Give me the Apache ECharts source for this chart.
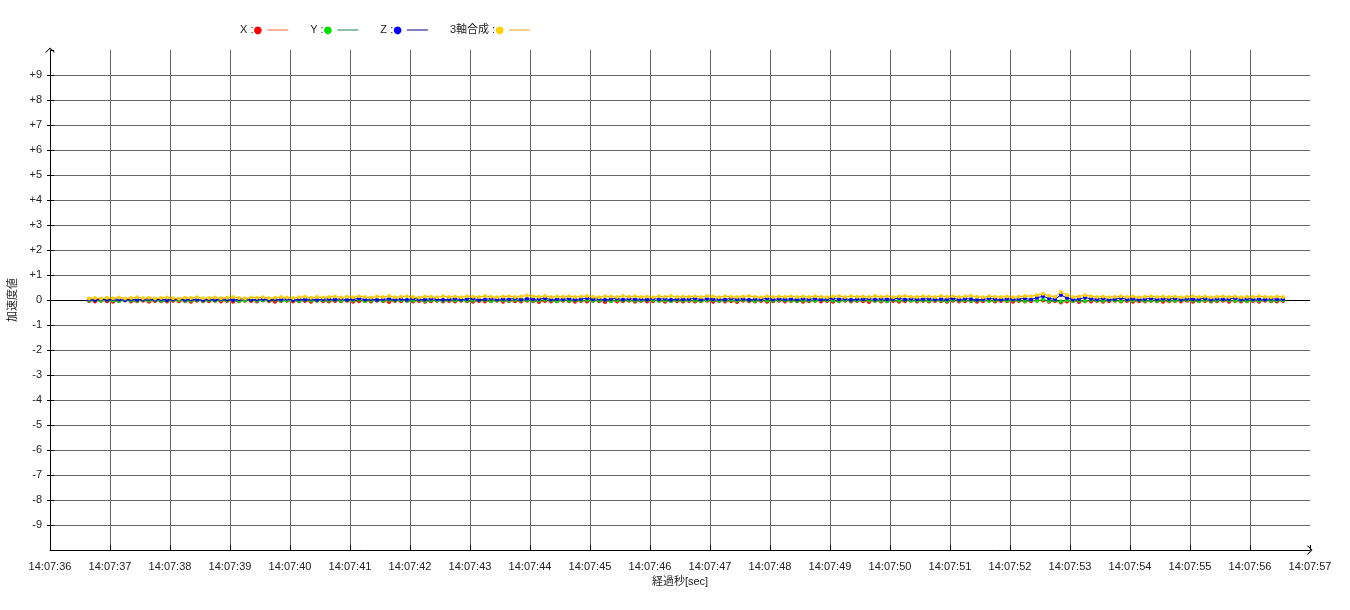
<!DOCTYPE html>
<html>
<head>
<meta charset="utf-8">
<script src="https://cdn.jsdelivr.net/npm/echarts@6/dist/echarts.min.js"></script>
<style>
  html, body { margin: 0; padding: 0; background: #fff; }
  #main { width: 1350px; height: 610px; }
</style>
</head>
<body>
<div id="main"></div>
<script>
// サンプリング（秒）: 14:07:36.65 から 0.1 秒ごと
const startSec = 36.65;
const stepSec = 0.1;

const seriesNames = ['X', 'Y', 'Z', '3軸合成'];

// X軸
const xValues = [
  -0.04,-0.06,-0.03,-0.05,-0.07,-0.04,-0.02,-0.06,-0.05,-0.03,-0.07,-0.04,-0.05,-0.06,-0.03,-0.05,-0.04,-0.07,-0.03,-0.05,
  -0.05,-0.03,-0.06,-0.04,-0.07,-0.05,-0.03,-0.04,-0.06,-0.02,-0.05,-0.07,-0.04,-0.03,-0.06,-0.05,-0.04,-0.07,-0.03,-0.05,
  -0.06,-0.04,-0.05,-0.03,-0.07,-0.05,-0.04,-0.06,-0.03,-0.05,-0.08,-0.04,-0.05,-0.03,-0.06,-0.04,-0.07,-0.05,-0.03,-0.06,
  -0.04,-0.06,-0.03,-0.05,-0.07,-0.04,-0.06,-0.05,-0.03,-0.07,-0.04,-0.05,-0.06,-0.03,-0.05,-0.08,-0.04,-0.06,-0.05,-0.03,
  -0.05,-0.07,-0.04,-0.06,-0.03,-0.05,-0.08,-0.04,-0.06,-0.05,-0.03,-0.07,-0.04,-0.06,-0.05,-0.03,-0.07,-0.04,-0.05,-0.06,
  -0.04,-0.06,-0.05,-0.03,-0.07,-0.04,-0.06,-0.05,-0.08,-0.03,-0.05,-0.06,-0.04,-0.07,-0.05,-0.03,-0.06,-0.04,-0.05,-0.07,
  -0.05,-0.03,-0.06,-0.04,-0.07,-0.05,-0.03,-0.06,-0.04,-0.05,-0.08,-0.03,-0.06,-0.05,-0.04,-0.07,-0.05,-0.03,-0.06,-0.04,
  -0.06,-0.04,-0.05,-0.07,-0.03,-0.06,-0.05,-0.04,-0.07,-0.05,-0.03,-0.06,-0.04,-0.05,-0.07,-0.04,-0.06,-0.05,-0.03,-0.02,
  -0.07,-0.05,-0.10,-0.06,-0.04,-0.08,-0.05,-0.06,-0.04,-0.07,-0.05,-0.03,-0.06,-0.04,-0.07,-0.05,-0.06,-0.04,-0.05,-0.07,
  -0.05,-0.04,-0.06,-0.03,-0.07,-0.05,-0.04,-0.06,-0.05,-0.03,-0.07,-0.04,-0.06,-0.05,-0.04,-0.07,-0.03,-0.05,-0.06,-0.04
];

// Y軸
const yValues = [
  -0.02,-0.01,-0.03,0.00,-0.02,-0.04,-0.01,-0.02,-0.03,0.00,-0.02,-0.01,-0.03,-0.02,0.00,-0.01,-0.03,-0.02,-0.01,-0.03,
  -0.01,-0.03,0.00,-0.02,-0.01,-0.04,-0.02,0.00,-0.03,-0.01,-0.02,0.01,-0.03,-0.02,-0.01,-0.04,0.00,-0.02,-0.03,-0.01,
  -0.02,0.00,-0.03,-0.01,-0.02,0.01,-0.04,-0.02,-0.01,-0.03,0.00,-0.02,-0.01,-0.03,-0.02,0.00,-0.04,-0.01,-0.02,-0.03,
  0.00,-0.02,-0.01,-0.03,-0.02,0.00,-0.01,-0.04,-0.02,-0.01,-0.03,0.00,-0.02,-0.01,-0.03,-0.02,0.01,-0.02,-0.04,-0.01,
  -0.03,-0.01,-0.02,0.00,-0.03,-0.02,-0.01,-0.04,0.00,-0.02,-0.01,-0.03,-0.02,0.00,-0.01,-0.03,-0.02,-0.04,-0.01,-0.02,
  -0.01,-0.02,-0.04,-0.01,0.00,-0.03,-0.02,-0.01,-0.03,0.00,-0.02,-0.04,-0.01,-0.02,-0.03,0.00,-0.01,-0.02,-0.04,-0.02,
  -0.02,-0.03,0.00,-0.01,-0.02,-0.04,-0.01,-0.03,-0.02,0.00,-0.01,-0.03,-0.02,-0.04,0.00,-0.02,-0.01,-0.03,-0.02,-0.01,
  -0.03,-0.01,-0.02,-0.04,0.00,-0.02,-0.01,-0.03,-0.02,-0.01,-0.04,-0.02,0.00,-0.03,-0.01,-0.02,-0.04,-0.01,-0.03,0.02,
  -0.04,-0.02,-0.06,-0.01,-0.03,-0.02,-0.04,0.00,-0.02,-0.03,-0.01,-0.02,-0.04,0.00,-0.02,-0.01,-0.03,-0.02,-0.04,-0.01,
  -0.02,-0.03,-0.01,0.00,-0.02,-0.04,-0.01,-0.03,-0.02,0.00,-0.01,-0.03,-0.02,-0.04,-0.01,-0.02,0.00,-0.03,-0.02,-0.01
];

// Z軸
const zValues = [
  0.02,0.00,0.03,0.01,0.04,0.02,0.00,0.03,0.01,0.02,0.04,0.01,0.03,0.00,0.02,0.04,0.01,0.03,0.02,0.00,
  0.03,0.01,0.04,0.02,0.00,0.03,0.05,0.01,0.02,0.04,0.01,0.03,0.02,0.05,0.00,0.03,0.02,0.04,0.01,0.03,
  0.04,0.02,0.05,0.01,0.03,0.06,0.02,0.04,0.01,0.03,0.05,0.02,0.04,0.01,0.06,0.03,0.02,0.05,0.03,0.01,
  0.03,0.05,0.02,0.04,0.06,0.01,0.03,0.05,0.02,0.04,0.03,0.06,0.02,0.05,0.03,0.04,0.07,0.02,0.04,0.03,
  0.05,0.02,0.04,0.07,0.03,0.05,0.01,0.04,0.06,0.02,0.05,0.03,0.04,0.02,0.06,0.03,0.05,0.01,0.04,0.03,
  0.04,0.06,0.02,0.05,0.03,0.04,0.02,0.06,0.03,0.05,0.01,0.04,0.03,0.06,0.02,0.05,0.03,0.04,0.02,0.05,
  0.03,0.05,0.02,0.04,0.06,0.03,0.05,0.01,0.04,0.03,0.06,0.02,0.05,0.03,0.04,0.07,0.02,0.05,0.03,0.04,
  0.05,0.02,0.04,0.03,0.06,0.02,0.05,0.04,0.01,0.03,0.06,0.04,0.02,0.05,0.03,0.04,0.06,0.02,0.09,0.15,
  0.06,0.03,0.20,0.08,0.02,0.04,0.10,0.05,0.03,0.06,0.02,0.04,0.07,0.03,0.05,0.02,0.04,0.06,0.03,0.05,
  0.04,0.06,0.02,0.05,0.03,0.04,0.06,0.02,0.05,0.03,0.04,0.07,0.02,0.05,0.03,0.04,0.02,0.05,0.03,0.04
];

// 3軸合成
const sumValues = [
  0.06,0.08,0.05,0.09,0.07,0.10,0.06,0.08,0.11,0.07,0.09,0.06,0.08,0.10,0.07,0.05,0.09,0.08,0.11,0.07,
  0.08,0.10,0.07,0.09,0.12,0.08,0.06,0.10,0.09,0.11,0.07,0.09,0.12,0.10,0.08,0.11,0.13,0.09,0.12,0.10,
  0.12,0.14,0.10,0.13,0.11,0.15,0.12,0.10,0.14,0.12,0.16,0.11,0.13,0.15,0.12,0.10,0.14,0.13,0.11,0.15,
  0.12,0.14,0.11,0.15,0.13,0.12,0.16,0.13,0.11,0.14,0.15,0.12,0.14,0.18,0.15,0.13,0.16,0.12,0.14,0.13,
  0.15,0.12,0.14,0.16,0.13,0.11,0.15,0.14,0.12,0.16,0.13,0.15,0.12,0.14,0.11,0.15,0.13,0.16,0.12,0.14,
  0.13,0.15,0.12,0.16,0.14,0.11,0.15,0.13,0.12,0.14,0.16,0.13,0.11,0.15,0.12,0.14,0.13,0.15,0.12,0.14,
  0.12,0.15,0.13,0.11,0.14,0.16,0.12,0.15,0.13,0.14,0.12,0.16,0.13,0.15,0.11,0.14,0.16,0.13,0.12,0.15,
  0.14,0.12,0.16,0.13,0.15,0.12,0.14,0.17,0.13,0.11,0.15,0.13,0.12,0.14,0.11,0.13,0.16,0.15,0.20,0.25,
  0.17,0.13,0.32,0.20,0.12,0.14,0.19,0.15,0.12,0.14,0.11,0.13,0.15,0.12,0.14,0.11,0.13,0.15,0.12,0.14,
  0.12,0.14,0.11,0.13,0.15,0.12,0.14,0.11,0.13,0.15,0.12,0.14,0.11,0.13,0.12,0.15,0.13,0.11,0.14,0.12
];

const dotColors = ['#ff0000', '#00e000', '#0000ff', '#ffd000'];
const lineColors = ['#f06040', '#208050', '#000080', '#f0a000'];
const richKeys = ['dx', 'dy', 'dz', 'dc'];

const fontFamily = '"Liberation Sans", Arial, "Noto Sans CJK JP", sans-serif';
const arrow = 'path://M0,10 L10,0 L20,10 L17.5,10 L10,2.6 L2.5,10 Z';

function toPairs(values) {
  return values.map((v, i) => [+(startSec + i * stepSec).toFixed(2), v]);
}

const chart = echarts.init(document.getElementById('main'), null, { renderer: 'canvas' });

const valueLists = [xValues, yValues, zValues, sumValues];

const rich = { t: { fontSize: 11, lineHeight: 13, color: '#222', fontFamily: fontFamily } };
richKeys.forEach((k, i) => {
  rich[k] = { fontSize: 10, lineHeight: 13, color: dotColors[i], fontFamily: 'DejaVu Sans' };
});

const series = seriesNames.map((name, i) => ({
  name: name,
  type: 'line',
  data: toPairs(valueLists[i]),
  symbol: 'circle',
  symbolSize: 4,
  showSymbol: true,
  animation: false,
  itemStyle: { color: dotColors[i] },
  lineStyle: { color: lineColors[i], width: 1 },
  z: 3 + i
}));

// 0 のライン
series[0].markLine = {
  silent: true,
  symbol: 'none',
  label: { show: false },
  lineStyle: { color: '#000', width: 1, type: 'solid' },
  data: [{ yAxis: 0 }],
  z: 1
};

const option = {
  backgroundColor: '#fff',
  animation: false,
  textStyle: { fontFamily: fontFamily },
  legend: {
    left: 240,
    top: 24.5,
    padding: 0,
    align: 'right',
    icon: 'rect',
    itemWidth: 21,
    itemHeight: 1,
    itemGap: 22,
    data: seriesNames.map((n, i) => ({ name: n, itemStyle: { color: lineColors[i] } })),
    formatter: function (name) {
      const i = seriesNames.indexOf(name);
      return '{t|' + name + ' :}{' + richKeys[i] + '|●}';
    },
    textStyle: { rich: rich }
  },
  grid: { left: 50, right: 40, top: 50, bottom: 60, outerBoundsMode: 'none', containLabel: false },
  xAxis: {
    type: 'value',
    min: 36,
    max: 57,
    interval: 1,
    name: '経過秒[sec]',
    nameLocation: 'middle',
    nameGap: 26,
    nameTextStyle: { fontSize: 11, color: '#222', fontFamily: fontFamily },
    axisLine: {
      show: true, onZero: false,
      lineStyle: { color: '#000', width: 1 },
      symbol: ['none', arrow], symbolSize: [10, 6]
    },
    axisTick: { show: true, inside: true, length: 5, lineStyle: { color: '#000' } },
    axisLabel: {
      fontSize: 11, color: '#222', margin: 11,
      formatter: v => '14:07:' + v
    },
    splitLine: {
      show: true, showMinLine: false, showMaxLine: false,
      lineStyle: { color: '#666', width: 1 }
    }
  },
  yAxis: [{
    type: 'value',
    min: -10,
    max: 10,
    interval: 1,
    name: '加速度値',
    nameLocation: 'middle',
    nameGap: 32,
    nameRotate: 90,
    nameTextStyle: { fontSize: 11, color: '#222', fontFamily: fontFamily },
    axisLine: {
      show: true,
      lineStyle: { color: '#000', width: 1 },
      symbol: ['none', arrow], symbolSize: [10, 6]
    },
    axisTick: { show: true, length: 3, lineStyle: { color: '#000' } },
    axisLabel: {
      fontSize: 11, color: '#222', margin: 8,
      showMinLabel: false, showMaxLabel: false,
      formatter: v => (v > 0 ? '+' + v : String(v))
    },
    splitLine: {
      show: true, showMinLine: false, showMaxLine: false,
      lineStyle: { color: '#666', width: 1 }
    }
  }, {
    type: 'value',
    min: -10,
    max: 10,
    interval: 1,
    position: 'left',
    axisLine: { show: false },
    axisTick: { show: true, inside: true, length: 4, lineStyle: { color: '#000' } },
    axisLabel: { show: false },
    splitLine: { show: false }
  }],
  series: series
};

chart.setOption(option);
</script>
</body>
</html>
